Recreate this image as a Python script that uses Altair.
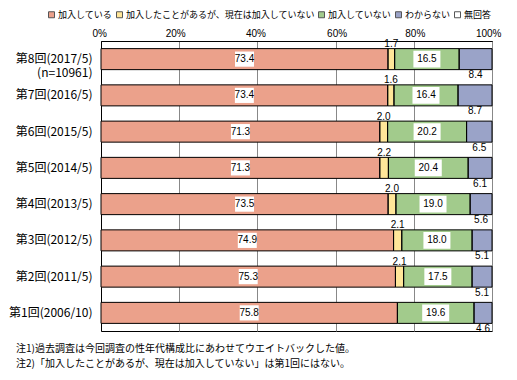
import altair as alt
import pandas as pd

categories = ["第8回(2017/5)", "第7回(2016/5)", "第6回(2015/5)", "第5回(2014/5)",
              "第4回(2013/5)", "第3回(2012/5)", "第2回(2011/5)", "第1回(2006/10)"]
sample_note = "(n=10961)"
series = ["加入している", "加入したことがあるが、現在は加入していない", "加入していない", "わからない", "無回答"]
joined = [73.4, 73.4, 71.3, 71.3, 73.5, 74.9, 75.3, 75.8]
joined_before = [1.7, 1.6, 2.0, 2.2, 2.0, 2.1, 2.1, None]
not_joined = [16.5, 16.4, 20.2, 20.4, 19.0, 18.0, 17.5, 19.6]
unknown = [8.4, 8.7, 6.5, 6.1, 5.6, 5.1, 5.1, 4.6]
no_answer = [None] * 8
colors = ["#EBA18B", "#FFE699", "#A2CB8C", "#9AA3C8", "#FFFFFF"]
x_ticks = [0, 0.2, 0.4, 0.6, 0.8, 1.0]
notes = ["注1)過去調査は今回調査の性年代構成比にあわせてウエイトバックした値。",
         "注2)「加入したことがあるが、現在は加入していない」は第1回にはない。"]

rows = []
for i, c in enumerate(categories):
    for k, vals in enumerate([joined, joined_before, not_joined, unknown, no_answer]):
        v = vals[i]
        if v is None:
            continue
        rows.append({"cat": c, "series": series[k], "order": k, "value": v,
                     "label": f"{v:.1f}"})
df = pd.DataFrame(rows)

JP = "Noto Sans CJK JP"
NUM = "Liberation Sans"

label_expr = ("datum.value == '" + categories[0] + "' ? ['" + categories[0] + "', '"
              + sample_note + "\u00a0\u00a0\u00a0'] : datum.label")

y_enc = alt.Y("cat:N", sort=categories,
              scale=alt.Scale(paddingInner=0.42, paddingOuter=0.21),
              axis=alt.Axis(title=None, ticks=False, domainColor="black", labelColor="black",
                            labelFont=JP, labelFontSize=12, labelPadding=9,
                            labelExpr=label_expr, labelLineHeight=14))

base = alt.Chart(df).transform_stack(
    stack="value", groupby=["cat"], sort=[alt.SortField("order", "ascending")],
    as_=["x0", "x1"], offset="normalize"
).transform_calculate(mid="(datum.x0 + datum.x1) / 2")

x_axis = alt.Axis(orient="top", format="%", values=x_ticks, title=None, ticks=False,
                  domainColor="black", grid=True, gridColor="#888888", gridWidth=1,
                  labelFont=NUM, labelFontSize=10, labelColor="black", labelPadding=3,
                  labelOffset={"condition": [{"test": "datum.value <= 0", "value": -9},
                                             {"test": "datum.value >= 1", "value": 9},
                                             {"test": "datum.value < 0.3", "value": -4},
                                             {"test": "datum.value < 0.5", "value": -2}],
                               "value": 1})

bars = base.mark_bar().encode(
    x=alt.X("x0:Q", scale=alt.Scale(domain=[0, 1], nice=False), axis=x_axis),
    x2="x1:Q",
    y=y_enc,
    color=alt.Color("series:N", scale=alt.Scale(domain=series, range=colors),
                    legend=alt.Legend(title=None, orient="none", legendX=-54, legendY=-31,
                                      direction="horizontal", symbolType="square",
                                      symbolSize=36, symbolStrokeColor="#555555",
                                      symbolStrokeWidth=1, columnPadding=1, labelOffset=2,
                                      labelFont=JP, labelFontSize=9, labelColor="black",
                                      labelLimit=400, padding=0)),
)

outlines = base.mark_bar(fill=None, filled=False, stroke="black", strokeWidth=1).encode(
    x="x0:Q", x2="x1:Q", y=alt.Y("cat:N", sort=categories)
)

box_small = "M-1,-0.8L1,-0.8L1,0.8L-1,0.8Z"
box_wide = "M-1,-0.62L1,-0.62L1,0.62L-1,0.62Z"

pink_box = base.transform_filter("datum.order == 0").mark_point(
    shape=box_small, filled=True, fill="white", opacity=1, strokeWidth=0, size=360
).encode(x="mid:Q", y=alt.Y("cat:N", sort=categories))
green_box = base.transform_filter("datum.order == 2").mark_point(
    shape=box_wide, filled=True, fill="white", opacity=1, strokeWidth=0, size=730
).encode(x="mid:Q", y=alt.Y("cat:N", sort=categories))

def txt(order, dy):
    return base.transform_filter(f"datum.order == {order}").mark_text(
        font=NUM, fontSize=10, color="black", dy=dy
    ).encode(x="mid:Q", y=alt.Y("cat:N", sort=categories), text="label:N")

chart = alt.layer(
    bars, outlines, pink_box, green_box, txt(0, 0), txt(2, 0), txt(1, -15), txt(3, 16)
).properties(
    width=391, height=290,
    autosize=alt.AutoSizeParams(type="none"),
    padding={"left": 93, "top": 33, "right": 17, "bottom": 41},
    title=alt.Title(notes, orient="bottom", anchor="start", align="left", fontSize=10,
                    fontWeight="normal", font=JP, color="black", dx=-85, offset=10,
                    lineHeight=15, baseline="top", frame="group"),
).configure_view(stroke="black", strokeWidth=1)

chart.save("out.html", embed_options={"renderer": "svg", "actions": False})
